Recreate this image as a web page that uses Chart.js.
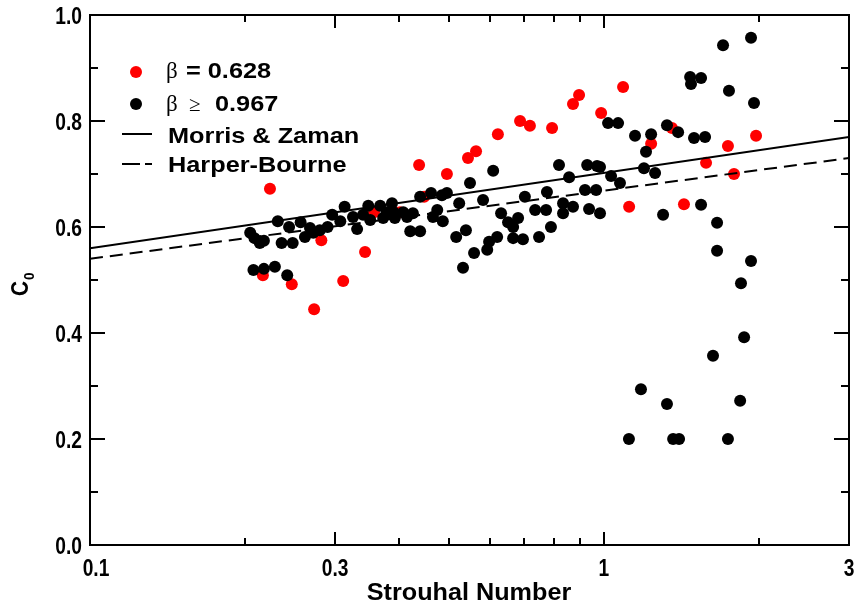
<!DOCTYPE html>
<html>
<head>
<meta charset="utf-8">
<script src="https://cdn.jsdelivr.net/npm/chart.js@4/dist/chart.umd.min.js"></script>
<style>
  html, body { margin: 0; padding: 0; background: #fff; }
</style>
</head>
<body>
<canvas id="grafico" width="857" height="606"></canvas>
<script>
// ===============================
// DADOS
// ===============================

// beta = 0.628 (vermelho)
const st628 = [0.224, 0.217, 0.247, 0.273, 0.282, 0.311, 0.343, 0.357, 0.401, 0.437,
    0.447, 0.495, 0.544, 0.564, 0.622, 0.687, 0.718, 0.793, 0.871, 0.895,
    0.988, 1.090, 1.120, 1.236, 1.357, 1.432, 1.581, 1.744, 1.792, 1.978];
const c0628 = [0.672, 0.509, 0.492, 0.445, 0.575, 0.498, 0.553, 0.628, 0.628, 0.717,
    0.657, 0.700, 0.730, 0.743, 0.775, 0.800, 0.791, 0.787, 0.832, 0.849,
    0.815, 0.864, 0.638, 0.757, 0.787, 0.643, 0.721, 0.753, 0.700, 0.772];

// beta >= 0.967 (preto)
const st967 = [0.205, 0.209, 0.214, 0.218, 0.232, 0.236, 0.244, 0.248, 0.257, 0.262,
    0.268, 0.272, 0.280, 0.290, 0.296, 0.307, 0.313, 0.325, 0.331, 0.340,
    0.348, 0.351, 0.367, 0.372, 0.378, 0.387, 0.390, 0.392, 0.407, 0.414,
    0.420, 0.425, 0.439, 0.439, 0.461, 0.465, 0.474, 0.484, 0.486, 0.495,
    0.516, 0.523, 0.539, 0.532, 0.549, 0.559, 0.582, 0.593, 0.598, 0.609,
    0.620, 0.631, 0.651, 0.666, 0.681, 0.666, 0.696, 0.702, 0.735, 0.748,
    0.772, 0.775, 0.789, 0.818, 0.833, 0.833, 0.856, 0.871, 0.919, 0.928,
    0.936, 0.966, 0.970, 0.983, 1.033, 1.075, 0.208, 0.218, 0.229, 0.242,
    1.019, 1.066, 1.150, 1.236, 1.327, 1.395, 1.498, 1.574, 1.208, 1.197,
    1.258, 0.983, 1.706, 1.934, 1.472, 1.478, 1.546, 1.752, 1.960, 1.304,
    1.546, 1.661, 1.661, 1.934, 1.849, 1.875, 1.631, 1.181, 1.327, 1.842,
    1.119, 1.364, 1.401, 1.744];
const c0967 = [0.589, 0.579, 0.570, 0.574, 0.611, 0.570, 0.600, 0.570, 0.609, 0.581,
    0.598, 0.589, 0.594, 0.600, 0.623, 0.611, 0.638, 0.619, 0.596, 0.623,
    0.640, 0.613, 0.640, 0.617, 0.628, 0.645, 0.628, 0.617, 0.628, 0.619,
    0.592, 0.626, 0.592, 0.657, 0.664, 0.619, 0.632, 0.660, 0.611, 0.664,
    0.581, 0.645, 0.594, 0.523, 0.683, 0.551, 0.651, 0.557, 0.572, 0.706,
    0.581, 0.626, 0.609, 0.600, 0.617, 0.579, 0.577, 0.657, 0.632, 0.581,
    0.632, 0.666, 0.600, 0.717, 0.626, 0.645, 0.694, 0.638, 0.670, 0.717,
    0.634, 0.670, 0.715, 0.626, 0.696, 0.683, 0.519, 0.521, 0.525, 0.509,
    0.796, 0.796, 0.772, 0.775, 0.792, 0.779, 0.768, 0.770, 0.742, 0.711,
    0.702, 0.713, 0.943, 0.957, 0.883, 0.870, 0.881, 0.857, 0.834, 0.623,
    0.642, 0.608, 0.555, 0.536, 0.494, 0.392, 0.357, 0.294, 0.266, 0.272,
    0.200, 0.200, 0.200, 0.200];

// curvas de referência
const stLinha = [0.1, 3];
const morrisZaman = [0.56, 0.77];
const harperBourne = [0.54, 0.73];

// eixos
const xTicks = [0.1, 0.3, 1, 3];
const xMenores = [0.2, 0.4, 0.5, 0.6, 0.7, 0.8, 0.9, 2];
const yTicks = [0, 0.2, 0.4, 0.6, 0.8, 1.0];
const yMenores = [0.1, 0.3, 0.5, 0.7, 0.9];

const pontos = (xs, ys) => xs.map((x, i) => ({ x: x, y: ys[i] }));

// ===============================
// DESENHO DE TEXTO / MOLDURA
// ===============================

function texto(ctx, t, x, y, fonte, sx, align) {
    ctx.save();
    ctx.font = fonte;
    ctx.textAlign = align || "left";
    ctx.textBaseline = "alphabetic";
    ctx.translate(x, y);
    ctx.scale(sx, 1);
    ctx.fillText(t, 0, 0);
    ctx.restore();
}

const SANS = "'Liberation Sans', Arial, sans-serif";
const SERIF = "'Liberation Serif', 'Times New Roman', serif";

const moldura = {
    id: "moldura",
    afterDatasetsDraw(chart) {
        const ctx = chart.ctx;
        const a = chart.chartArea;
        const sx = chart.scales.x;
        const sy = chart.scales.y;

        ctx.save();
        ctx.strokeStyle = "#000";
        ctx.fillStyle = "#000";
        ctx.lineWidth = 2;
        ctx.strokeRect(a.left, a.top, a.right - a.left, a.bottom - a.top);

        // ticks para dentro, nos quatro lados
        ctx.beginPath();
        xTicks.concat(xMenores).forEach(v => {
            const px = Math.round(sx.getPixelForValue(v));
            const len = xTicks.includes(v) ? 13 : 7;
            ctx.moveTo(px, a.bottom); ctx.lineTo(px, a.bottom - len);
            ctx.moveTo(px, a.top); ctx.lineTo(px, a.top + len);
        });
        yTicks.concat(yMenores).forEach(v => {
            const py = Math.round(sy.getPixelForValue(v));
            const len = yTicks.includes(v) ? 15 : 8;
            ctx.moveTo(a.left, py); ctx.lineTo(a.left + len, py);
            ctx.moveTo(a.right, py); ctx.lineTo(a.right - len, py);
        });
        ctx.stroke();

        // rótulos dos ticks
        const fTick = "bold 24px " + SANS;
        xTicks.forEach((v, i) => {
            const desloc = i === 0 ? 6 : 0;
            texto(ctx, String(v), sx.getPixelForValue(v) + desloc, 576, fTick, 0.8, "center");
        });
        yTicks.forEach(v => {
            texto(ctx, v.toFixed(1), 82, sy.getPixelForValue(v) + 9, fTick, 0.8, "right");
        });

        // títulos
        texto(ctx, "Strouhal Number", 469, 600, "bold 24px " + SANS, 1.05, "center");
        ctx.save();
        ctx.translate(28, 296);
        ctx.rotate(-Math.PI / 2);
        texto(ctx, "C", 0, 0, "bold 23px " + SANS, 0.9, "left");
        texto(ctx, "0", 16, 6, "bold 15px " + SANS, 0.9, "left");
        ctx.restore();

        // legenda
        const fLeg = "bold 22px " + SANS;
        const fBeta = "23px " + SERIF;
        ctx.fillStyle = "#ff0000";
        ctx.beginPath(); ctx.arc(136, 72, 6, 0, Math.PI * 2); ctx.fill();
        ctx.fillStyle = "#000";
        ctx.beginPath(); ctx.arc(136, 104, 6, 0, Math.PI * 2); ctx.fill();

        texto(ctx, "β", 166, 78, fBeta, 1, "left");
        texto(ctx, "= 0.628", 186, 78, fLeg, 1.15, "left");
        texto(ctx, "β", 166, 111, fBeta, 1, "left");
        texto(ctx, "≥", 189, 111, "21px " + SERIF, 1, "left");
        texto(ctx, "0.967", 215, 111, fLeg, 1.15, "left");

        ctx.lineWidth = 2;
        ctx.beginPath(); ctx.moveTo(122, 134); ctx.lineTo(152, 134); ctx.stroke();
        ctx.setLineDash([18, 5]);
        ctx.beginPath(); ctx.moveTo(122, 164); ctx.lineTo(152, 164); ctx.stroke();
        ctx.setLineDash([]);
        texto(ctx, "Morris & Zaman", 168, 143, fLeg, 1.15, "left");
        texto(ctx, "Harper-Bourne", 168, 172, fLeg, 1.15, "left");

        ctx.restore();
    }
};

// ===============================
// GRÁFICO
// ===============================

new Chart(document.getElementById("grafico"), {
    type: "scatter",
    data: {
        datasets: [
            {
                label: "β = 0.628",
                data: pontos(st628, c0628),
                backgroundColor: "#ff0000",
                borderWidth: 0,
                pointRadius: 6,
                order: 4
            },
            {
                label: "β ≥ 0.967",
                data: pontos(st967, c0967),
                backgroundColor: "#000000",
                borderWidth: 0,
                pointRadius: 6,
                order: 3
            },
            {
                label: "Morris & Zaman",
                data: pontos(stLinha, morrisZaman),
                showLine: true,
                borderColor: "#000",
                borderWidth: 2,
                pointRadius: 0,
                order: 2
            },
            {
                label: "Harper-Bourne",
                data: pontos(stLinha, harperBourne),
                showLine: true,
                borderColor: "#000",
                borderWidth: 2,
                borderDash: [13, 7],
                pointRadius: 0,
                order: 1
            }
        ]
    },
    options: {
        responsive: false,
        devicePixelRatio: 1,
        animation: false,
        layout: { padding: { top: 15, right: 8, left: 0, bottom: 0 } },
        plugins: { legend: { display: false }, tooltip: { enabled: false } },
        scales: {
            x: {
                type: "logarithmic",
                min: 0.1,
                max: 3,
                grid: { display: false },
                border: { display: false },
                ticks: { display: false },
                afterFit(s) { s.height = 61; }
            },
            y: {
                type: "linear",
                min: 0,
                max: 1,
                grid: { display: false },
                border: { display: false },
                ticks: { display: false },
                afterFit(s) { s.width = 90; }
            }
        }
    },
    plugins: [moldura]
});
</script>
</body>
</html>
